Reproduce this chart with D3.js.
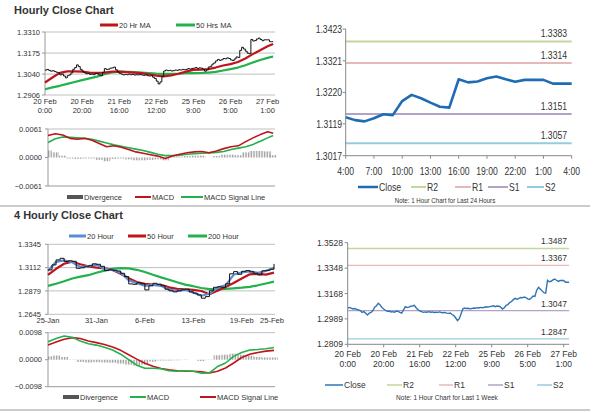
<!DOCTYPE html>
<html>
<head>
<meta charset="utf-8">
<script src="https://cdn.jsdelivr.net/npm/d3@7"></script>
<style>
  body { margin: 0; background: #fff; }
  svg text { font-family: 'Liberation Sans', Arial, sans-serif; fill: #333; }
</style>
</head>
<body>
<div id="chart"></div>
<script>
// ---- hourly data (index = trading hour from 20 Feb 0:00) ----
const hourlyClose = [
  1.3066, 1.3070, 1.3064, 1.3059, 1.3062, 1.3056, 1.3052, 1.3048, 1.3035, 1.3040, 1.3028,
  1.3016, 1.3030, 1.3035, 1.3048, 1.3071, 1.3082, 1.3099, 1.3088, 1.3070, 1.3059,
  1.3050, 1.3042, 1.3045, 1.3038, 1.3040, 1.3036, 1.3044, 1.3042, 1.3035, 1.3030,
  1.3052, 1.3075, 1.3070, 1.3072, 1.3078, 1.3080, 1.3085, 1.3068, 1.3054, 1.3045,
  1.3040, 1.3035, 1.3038, 1.3036, 1.3040, 1.3036, 1.3038, 1.3034, 1.3036, 1.3035,
  1.3038, 1.3034, 1.3032, 1.3035, 1.3030, 1.3028, 1.3030, 1.3020, 1.3012, 1.2995,
  1.2977, 1.2990, 1.3025, 1.3060, 1.3066, 1.3062, 1.3064, 1.3060, 1.3062, 1.3066,
  1.3064, 1.3068, 1.3066, 1.3070, 1.3068, 1.3071, 1.3075, 1.3072, 1.3076, 1.3078,
  1.3082, 1.3075, 1.3080, 1.3078, 1.3072, 1.3059, 1.3068, 1.3085, 1.3090, 1.3104,
  1.3112, 1.3125, 1.3134, 1.3128, 1.3132, 1.3140, 1.3138, 1.3144,
  // last 24 hours: 26 Feb 4:00 .. 27 Feb 4:00
  1.3140, 1.3131, 1.3127, 1.3137, 1.3150, 1.3147, 1.3192, 1.3212, 1.3201, 1.3187,
  1.3174, 1.3171, 1.3262, 1.3252, 1.3255, 1.3265, 1.3271, 1.3262, 1.3254, 1.3260,
  1.3260, 1.3260, 1.3248, 1.3248, 1.3248
];
const hourTickIdx = [0, 20, 40, 60, 80, 100, 120];
const hourTickLabels = [
  ['20 Feb', '0:00'], ['20 Feb', '20:00'], ['21 Feb', '16:00'], ['22 Feb', '12:00'],
  ['25 Feb', '9:00'], ['26 Feb', '5:00'], ['27 Feb', '1:00']
];
const hourSampleIdx = [0, 4, 8, 12, 16, 20, 24, 28, 32, 36, 40, 44, 48, 52, 56, 60,
  64, 68, 72, 76, 80, 84, 88, 92, 96, 100, 104, 108, 112, 116, 120, 123];
const ma20Hr = [1.2986, 1.3018, 1.3048, 1.3057, 1.3058, 1.3056, 1.3050, 1.3048, 1.3050, 1.3056,
  1.3056, 1.3053, 1.3050, 1.3046, 1.3039, 1.3030, 1.3026, 1.3032, 1.3042, 1.3056, 1.3067,
  1.3068, 1.3072, 1.3082, 1.3095, 1.3104, 1.3118, 1.3140, 1.3168, 1.3193, 1.3218, 1.3233];
const ma50Hr = [1.2943, 1.2955, 1.2965, 1.2977, 1.2989, 1.3001, 1.3013, 1.3024, 1.3039, 1.3051,
  1.3056, 1.3055, 1.3053, 1.3049, 1.3046, 1.3043, 1.3042, 1.3042, 1.3043, 1.3046, 1.3046,
  1.3047, 1.3050, 1.3054, 1.3063, 1.3072, 1.3082, 1.3097, 1.3114, 1.3130, 1.3144, 1.3153];
const hourMacd = [0.0047, 0.0051, 0.0048, 0.0041, 0.0039, 0.0041, 0.0037, 0.0030, 0.0023, 0.0025,
  0.0022, 0.0017, 0.0012, 0.0009, 0.0006, 0.0003, -0.0002, 0.0003, 0.0007, 0.0010, 0.0012,
  0.0013, 0.0010, 0.0014, 0.0019, 0.0023, 0.0025, 0.0034, 0.0042, 0.0049, 0.0055, 0.0052];
const hourSignal = [0.0032, 0.0040, 0.0044, 0.0043, 0.0042, 0.0041, 0.0039, 0.0035, 0.0031, 0.0027,
  0.0024, 0.0021, 0.0018, 0.0015, 0.0011, 0.0007, 0.0004, 0.0004, 0.0005, 0.0007, 0.0008,
  0.0009, 0.0010, 0.0011, 0.0013, 0.0017, 0.0020, 0.0023, 0.0028, 0.0035, 0.0042, 0.0047];
const hourDiverg = [0.0015, 0.0011, 0.0004, -0.0002, -0.0003, -0.0002, -0.0002, -0.0005, -0.0008, -0.0003,
  -0.0002, -0.0004, -0.0006, -0.0006, -0.0005, -0.0004, -0.0006, -0.0001, 0.0002, 0.0003, 0.0004,
  0.0004, 0.0000, 0.0003, 0.0006, 0.0006, 0.0005, 0.0011, 0.0014, 0.0014, 0.0013, 0.0005];

// ---- last 24 hours ----
const dayTickLabels = ['4:00', '7:00', '10:00', '13:00', '16:00', '19:00', '22:00', '1:00', '4:00'];
const dayLevels = [
  { name: 'R2', value: 1.3383 }, { name: 'R1', value: 1.3314 },
  { name: 'S1', value: 1.3151 }, { name: 'S2', value: 1.3057 }
];
const weekLevels = [
  { name: 'R2', value: 1.3487 }, { name: 'R1', value: 1.3367 },
  { name: 'S1', value: 1.3047 }, { name: 'S2', value: 1.2847 }
];

// ---- 4 hourly data (index = 4h bar from 25 Jan) ----
const fourTickIdx = [0, 24, 48, 72, 96, 111];
const fourTickLabels = ['25-Jan', '31-Jan', '6-Feb', '13-Feb', '19-Feb', '25-Feb'];
const fourCloseIdx = d3.range(0, 113, 2);
const fourClose = [1.3089, 1.3139, 1.3189, 1.3205, 1.3172, 1.3180, 1.3175, 1.3105, 1.3110, 1.3120,
  1.3130, 1.3150, 1.3145, 1.3125, 1.3082, 1.3090, 1.3085, 1.3078, 1.3055, 1.3022,
  1.2949, 1.2945, 1.2960, 1.2950, 1.2889, 1.2930, 1.2955, 1.2945, 1.2930, 1.2896,
  1.2880, 1.2869, 1.2880, 1.2890, 1.2896, 1.2870, 1.2856, 1.2839, 1.2806, 1.2822,
  1.2880, 1.2915, 1.2920, 1.2915, 1.2950, 1.3050, 1.3072, 1.3045, 1.3075, 1.3082,
  1.3070, 1.3055, 1.3039, 1.3080, 1.3085, 1.3095, 1.3149];
const fourSampleIdx = d3.range(0, 113, 4);
const ma20Hour = [1.3080, 1.3170, 1.3185, 1.3165, 1.3118, 1.3128, 1.3140, 1.3100, 1.3088, 1.3062,
  1.2985, 1.2955, 1.2930, 1.2940, 1.2930, 1.2890, 1.2880, 1.2890, 1.2862, 1.2830,
  1.2850, 1.2912, 1.2935, 1.3040, 1.3065, 1.3075, 1.3060, 1.3078, 1.3110];
const ma50Hour = [1.3039, 1.3100, 1.3150, 1.3170, 1.3145, 1.3125, 1.3112, 1.3105, 1.3089, 1.3050,
  1.3005, 1.2968, 1.2950, 1.2941, 1.2939, 1.2915, 1.2900, 1.2895, 1.2889, 1.2878,
  1.2845, 1.2880, 1.2918, 1.2958, 1.3003, 1.3045, 1.3050, 1.3042, 1.3062];
const ma200Hour = [1.2929, 1.2950, 1.2975, 1.3003, 1.3022, 1.3036, 1.3060, 1.3082, 1.3100, 1.3106,
  1.3104, 1.3090, 1.3068, 1.3040, 1.3014, 1.2990, 1.2965, 1.2942, 1.2926, 1.2908,
  1.2896, 1.2896, 1.2900, 1.2905, 1.2911, 1.2920, 1.2935, 1.2953, 1.2972];
const fourMacd = [0.0065, 0.0077, 0.0086, 0.0081, 0.0068, 0.0058, 0.0053, 0.0045, 0.0035, 0.0020,
  0.0000, -0.0020, -0.0031, -0.0031, -0.0033, -0.0040, -0.0042, -0.0040, -0.0042, -0.0049,
  -0.0048, -0.0025, -0.0012, 0.0012, 0.0026, 0.0035, 0.0037, 0.0040, 0.0044];
const fourSignal = [0.0053, 0.0064, 0.0074, 0.0080, 0.0077, 0.0068, 0.0062, 0.0055, 0.0046, 0.0034,
  0.0018, 0.0002, -0.0013, -0.0024, -0.0032, -0.0037, -0.0040, -0.0042, -0.0042, -0.0044,
  -0.0048, -0.0042, -0.0030, -0.0012, 0.0008, 0.0020, 0.0026, 0.0031, 0.0034];
const fourDiverg = [0.0012, 0.0015, 0.0010, 0.0001, -0.0008, -0.0010, -0.0009, -0.0010, -0.0011, -0.0014,
  -0.0018, -0.0022, -0.0018, -0.0007, -0.0003, -0.0003, -0.0002, 0.0001, 0.0000, -0.0005,
  -0.0001, 0.0016, 0.0018, 0.0022, 0.0018, 0.0014, 0.0010, 0.0008, 0.0008];

const hourTicksY = [1.2906, 1.3040, 1.3175, 1.3310];
const hourMacdTicks = [-0.0061, 0.0000, 0.0061];
const dayTicksY = [1.3017, 1.3119, 1.3220, 1.3321, 1.3423];
const weekTicksY = [1.2809, 1.2989, 1.3168, 1.3348, 1.3528];
const fourTicksY = [1.2645, 1.2879, 1.3112, 1.3345];
const fourMacdTicks = [-0.0098, 0.0000, 0.0098];

// ---- colours ----
const red = '#c0141c';
const green = '#22b14c';
const blue20 = '#5b8ed0';
const closeBlue = '#1f6cb5';
const levelColor = { R2: '#c3d69b', R1: '#e6b9b8', S1: '#b3a2c7', S2: '#93cddd' };
const fmt4 = d3.format('.4f');

const svg = d3.select('#chart').append('svg')
  .attr('width', 600)
  .attr('height', 413);

svg.append('defs').append('pattern')
  .attr('id', 'hatch')
  .attr('patternUnits', 'userSpaceOnUse')
  .attr('width', 1.6).attr('height', 4)
  .append('rect')
  .attr('width', 0.7).attr('height', 4)
  .attr('fill', '#8a8a8a');

// squeeze text a bit, the original uses a condensed face
function narrow (sel, k = 0.82) {
  sel.each(function () {
    const len = this.getComputedTextLength();
    d3.select(this)
      .attr('textLength', len * k)
      .attr('lengthAdjust', 'spacingAndGlyphs');
  });
  return sel;
}

// y axis with grid lines like the spreadsheet charts
function leftAxis (y, ticks, x0, x1, { grid = true, size = 8, labelX = x0 - 5 } = {}) {
  const g = svg.append('g');
  if (grid) {
    g.selectAll('.grid').data(ticks).enter().append('line')
      .attr('x1', x0).attr('x2', x1)
      .attr('y1', (d) => y(d)).attr('y2', (d) => y(d))
      .attr('stroke', '#b0b0b0').attr('stroke-width', 0.8);
  }
  g.append('line')
    .attr('x1', x0).attr('x2', x0)
    .attr('y1', y(ticks[0])).attr('y2', y(ticks[ticks.length - 1]))
    .attr('stroke', '#999');
  g.selectAll('.tk').data(ticks).enter().append('line')
    .attr('x1', x0 - 3).attr('x2', x0)
    .attr('y1', (d) => y(d)).attr('y2', (d) => y(d))
    .attr('stroke', '#999');
  g.selectAll('.lb').data(ticks).enter().append('text')
    .attr('x', labelX).attr('y', (d) => y(d) + size * 0.35)
    .attr('text-anchor', 'end')
    .attr('font-size', size)
    .text((d) => fmt4(d));
  return g;
}

function bottomLine (y0, x0, x1) {
  svg.append('line')
    .attr('x1', x0).attr('x2', x1).attr('y1', y0).attr('y2', y0)
    .attr('stroke', '#999');
}

function drawLine (x, y, idx, values, color, width) {
  svg.append('path')
    .datum(values)
    .attr('fill', 'none')
    .attr('stroke', color)
    .attr('stroke-width', width)
    .attr('stroke-linejoin', 'round')
    .attr('d', d3.line().x((d, i) => x(idx[i])).y((d) => y(d)));
}

function drawDiverg (x, y, idx, values, step) {
  svg.append('g').selectAll('rect')
    .data(values)
    .enter().append('rect')
    .attr('x', (d, i) => x(Math.max(0, idx[i] - step / 2)))
    .attr('width', (d, i) => x(idx[i] + step / 2) - x(Math.max(0, idx[i] - step / 2)))
    .attr('y', (d) => Math.min(y(0), y(d)))
    .attr('height', (d) => Math.abs(y(d) - y(0)))
    .attr('fill', 'url(#hatch)');
}

function legend (items, yPos, size, squeeze) {
  const g = svg.append('g');
  items.forEach((it) => {
    g.append('line')
      .attr('x1', it.x).attr('x2', it.x + it.w)
      .attr('y1', yPos).attr('y2', yPos)
      .attr('stroke', it.color)
      .attr('stroke-width', it.sw);
    const t = g.append('text')
      .attr('x', it.x + it.w + 1).attr('y', yPos + size * 0.36)
      .attr('font-size', size)
      .text(it.label);
    if (squeeze) narrow(t);
  });
}

function title (text, yPos) {
  svg.append('text')
    .attr('x', 14).attr('y', yPos)
    .attr('font-size', 11)
    .attr('font-weight', 'bold')
    .attr('fill', '#222')
    .text(text);
}

// =================== Hourly Close Chart (top left) ===================
title('Hourly Close Chart', 14);

const xH = d3.scaleLinear().domain([0, 124]).range([45, 275]);
const yH = d3.scaleLinear().domain([1.2906, 1.3310]).range([95, 32]);
leftAxis(yH, hourTicksY, 45, 275, { size: 7.5, labelX: 40 });

legend([
  { x: 100, w: 18, color: red, sw: 3, label: '20 Hr MA' },
  { x: 176, w: 19, color: green, sw: 3, label: '50 Hrs MA' }
], 25, 7.5);

drawLine(xH, yH, hourSampleIdx, ma50Hr, green, 2.2);
drawLine(xH, yH, hourSampleIdx, ma20Hr, red, 2.2);
svg.append('path')
  .datum(hourlyClose)
  .attr('fill', 'none')
  .attr('stroke', '#111')
  .attr('stroke-width', 1)
  .attr('d', d3.line().curve(d3.curveStepAfter).x((d, i) => xH(i)).y((d) => yH(d)));

const hLab = svg.append('g');
hourTickIdx.forEach((v, i) => {
  const t = hLab.append('text')
    .attr('x', xH(v)).attr('y', 104)
    .attr('text-anchor', 'middle')
    .attr('font-size', 7.5);
  t.append('tspan').attr('x', xH(v)).text(hourTickLabels[i][0]);
  t.append('tspan').attr('x', xH(v)).attr('dy', 9).text(hourTickLabels[i][1]);
});

// hourly MACD
const xHm = d3.scaleLinear().domain([0, 124]).range([48, 275]);
const yHm = d3.scaleLinear().domain([-0.0061, 0.0061]).range([186, 129]);
svg.append('line')
  .attr('x1', 48).attr('x2', 275).attr('y1', yHm(0.0061)).attr('y2', yHm(0.0061))
  .attr('stroke', '#b0b0b0').attr('stroke-width', 0.8);
leftAxis(yHm, hourMacdTicks, 48, 275, { grid: false, size: 7.5, labelX: 42 });
bottomLine(yHm(-0.0061), 48, 275);
drawDiverg(xHm, yHm, hourSampleIdx, hourDiverg, 4);
drawLine(xHm, yHm, hourSampleIdx, hourSignal, green, 1.6);
drawLine(xHm, yHm, hourSampleIdx, hourMacd, red, 1.6);
legend([
  { x: 67, w: 16, color: '#555', sw: 4, label: 'Divergence' },
  { x: 135, w: 16, color: red, sw: 2, label: 'MACD' },
  { x: 181, w: 22, color: green, sw: 2, label: 'MACD Signal Line' }
], 197, 7.5);

// =================== Last 24 hours (top right) ===================
const hourlyDay = hourlyClose.slice(-25);
const xD = d3.scaleLinear().domain([0, 24]).range([345.7, 571.7]);
const yD = d3.scaleLinear().domain([1.3017, 1.3423]).range([155.7, 29]);

dayLevels.forEach((lv) => {
  svg.append('line')
    .attr('x1', xD(0)).attr('x2', xD(24))
    .attr('y1', yD(lv.value)).attr('y2', yD(lv.value))
    .attr('stroke', levelColor[lv.name]).attr('stroke-width', 2);
  narrow(svg.append('text')
    .attr('x', 567).attr('y', yD(lv.value) - 4)
    .attr('text-anchor', 'end')
    .attr('font-size', 10.5)
    .text(fmt4(lv.value)));
});
svg.append('path')
  .datum(hourlyDay)
  .attr('fill', 'none')
  .attr('stroke', closeBlue)
  .attr('stroke-width', 2.6)
  .attr('stroke-linejoin', 'round')
  .attr('d', d3.line().x((d, i) => xD(i)).y((d) => yD(d)));

const dAx = svg.append('g');
dAx.append('line').attr('x1', xD(0)).attr('x2', xD(0)).attr('y1', yD(1.3017)).attr('y2', yD(1.3423)).attr('stroke', '#888');
dAx.append('line').attr('x1', xD(0)).attr('x2', xD(24)).attr('y1', yD(1.3017)).attr('y2', yD(1.3017)).attr('stroke', '#888');
dayTicksY.forEach((v) => {
  dAx.append('line').attr('x1', xD(0) - 3).attr('x2', xD(0)).attr('y1', yD(v)).attr('y2', yD(v)).attr('stroke', '#888');
  narrow(dAx.append('text')
    .attr('x', 342).attr('y', yD(v) + 3.8)
    .attr('text-anchor', 'end').attr('font-size', 10.5)
    .text(fmt4(v)));
});
dayTickLabels.forEach((lab, i) => {
  const xv = xD(i * 3);
  dAx.append('line').attr('x1', xv).attr('x2', xv).attr('y1', yD(1.3017)).attr('y2', yD(1.3017) + 3).attr('stroke', '#888');
  narrow(dAx.append('text')
    .attr('x', xv).attr('y', 175)
    .attr('text-anchor', 'middle').attr('font-size', 10.5)
    .text(lab));
});
legend([
  { x: 358, w: 20, color: closeBlue, sw: 2.5, label: 'Close' },
  { x: 411, w: 15, color: levelColor.R2, sw: 2, label: 'R2' },
  { x: 455, w: 16, color: levelColor.R1, sw: 2, label: 'R1' },
  { x: 488, w: 20, color: levelColor.S1, sw: 2, label: 'S1' },
  { x: 527, w: 17, color: levelColor.S2, sw: 2, label: 'S2' }
], 187, 10.5, true);
narrow(svg.append('text')
  .attr('x', 445).attr('y', 203)
  .attr('text-anchor', 'middle').attr('font-size', 7.5)
  .text('Note: 1 Hour Chart for Last 24 Hours'));

// separators
svg.append('line').attr('x1', 0).attr('x2', 590).attr('y1', 206).attr('y2', 206).attr('stroke', '#999');
svg.append('line').attr('x1', 0).attr('x2', 590).attr('y1', 410).attr('y2', 410).attr('stroke', '#999');

// =================== 4 Hourly Close Chart (bottom left) ===================
title('4 Hourly Close Chart', 219);

const xF = d3.scaleLinear().domain([0, 112.5]).range([48, 275]);
const yF = d3.scaleLinear().domain([1.2645, 1.3345]).range([314.3, 244.3]);
leftAxis(yF, fourTicksY, 48, 275, { size: 7.5, labelX: 41 });
legend([
  { x: 69, w: 17, color: blue20, sw: 3, label: '20 Hour' },
  { x: 128, w: 18, color: red, sw: 3, label: '50 Hour' },
  { x: 188, w: 19, color: green, sw: 3, label: '200 Hour' }
], 236, 7.5);
drawLine(xF, yF, fourSampleIdx, ma200Hour, green, 2.2);
drawLine(xF, yF, fourSampleIdx, ma50Hour, red, 2.2);
drawLine(xF, yF, fourSampleIdx, ma20Hour, blue20, 2.2);
svg.append('path')
  .datum(fourClose)
  .attr('fill', 'none')
  .attr('stroke', '#111')
  .attr('stroke-width', 1)
  .attr('d', d3.line().curve(d3.curveStepAfter).x((d, i) => xF(fourCloseIdx[i])).y((d) => yF(d)));
fourTickIdx.forEach((v, i) => {
  svg.append('text')
    .attr('x', xF(v)).attr('y', 323)
    .attr('text-anchor', 'middle')
    .attr('font-size', 7.5)
    .text(fourTickLabels[i]);
});

// 4 hourly MACD
const yFm = d3.scaleLinear().domain([-0.0098, 0.0098]).range([386.7, 332.7]);
svg.append('line')
  .attr('x1', 48).attr('x2', 275).attr('y1', yFm(0.0098)).attr('y2', yFm(0.0098))
  .attr('stroke', '#b0b0b0').attr('stroke-width', 0.8);
leftAxis(yFm, fourMacdTicks, 48, 275, { grid: false, size: 7.5, labelX: 42 });
bottomLine(yFm(-0.0098), 48, 275);
drawDiverg(xF, yFm, fourSampleIdx, fourDiverg, 4);
drawLine(xF, yFm, fourSampleIdx, fourSignal, red, 1.6);
drawLine(xF, yFm, fourSampleIdx, fourMacd, green, 1.6);
legend([
  { x: 63, w: 16, color: '#555', sw: 4, label: 'Divergence' },
  { x: 130, w: 16, color: green, sw: 2, label: 'MACD' },
  { x: 200, w: 16, color: red, sw: 2, label: 'MACD Signal Line' }
], 397, 7.5);

// =================== 1 week hourly (bottom right) ===================
const xW = d3.scaleLinear().domain([0, 120]).range([347.7, 563.7]);
const yW = d3.scaleLinear().domain([1.2809, 1.3528]).range([344.3, 242.7]);
weekLevels.forEach((lv) => {
  svg.append('line')
    .attr('x1', xW(0)).attr('x2', xW(123))
    .attr('y1', yW(lv.value)).attr('y2', yW(lv.value))
    .attr('stroke', levelColor[lv.name]).attr('stroke-width', 1.3);
  svg.append('text')
    .attr('x', 567).attr('y', yW(lv.value) - 4)
    .attr('text-anchor', 'end')
    .attr('font-size', 8.5)
    .text(fmt4(lv.value));
});
svg.append('path')
  .datum(hourlyClose)
  .attr('fill', 'none')
  .attr('stroke', '#2f74b5')
  .attr('stroke-width', 1.4)
  .attr('d', d3.line().x((d, i) => xW(i)).y((d) => yW(d)));
const wAx = svg.append('g');
wAx.append('line').attr('x1', xW(0)).attr('x2', xW(0)).attr('y1', yW(1.2809)).attr('y2', yW(1.3528)).attr('stroke', '#888');
wAx.append('line').attr('x1', xW(0)).attr('x2', xW(123)).attr('y1', yW(1.2809)).attr('y2', yW(1.2809)).attr('stroke', '#888');
weekTicksY.forEach((v) => {
  wAx.append('line').attr('x1', xW(0) - 3).attr('x2', xW(0)).attr('y1', yW(v)).attr('y2', yW(v)).attr('stroke', '#888');
  wAx.append('text')
    .attr('x', 343).attr('y', yW(v) + 3)
    .attr('text-anchor', 'end').attr('font-size', 8.5)
    .text(fmt4(v));
});
hourTickIdx.forEach((v, i) => {
  wAx.append('line').attr('x1', xW(v)).attr('x2', xW(v)).attr('y1', yW(1.2809)).attr('y2', yW(1.2809) + 3).attr('stroke', '#888');
  const t = wAx.append('text')
    .attr('x', xW(v)).attr('y', 357)
    .attr('text-anchor', 'middle')
    .attr('font-size', 8.5);
  t.append('tspan').attr('x', xW(v)).text(hourTickLabels[i][0]);
  t.append('tspan').attr('x', xW(v)).attr('dy', 9.5).text(hourTickLabels[i][1]);
});
legend([
  { x: 325, w: 18, color: '#2f74b5', sw: 1.5, label: 'Close' },
  { x: 387, w: 15, color: levelColor.R2, sw: 1.5, label: 'R2' },
  { x: 439, w: 14, color: levelColor.R1, sw: 1.5, label: 'R1' },
  { x: 488, w: 15, color: levelColor.S1, sw: 1.5, label: 'S1' },
  { x: 537, w: 15, color: levelColor.S2, sw: 1.5, label: 'S2' }
], 385, 8.5);
svg.append('text')
  .attr('x', 447).attr('y', 400)
  .attr('text-anchor', 'middle').attr('font-size', 6.5)
  .text('Note: 1 Hour Chart for Last 1 Week');
</script>
</body>
</html>
